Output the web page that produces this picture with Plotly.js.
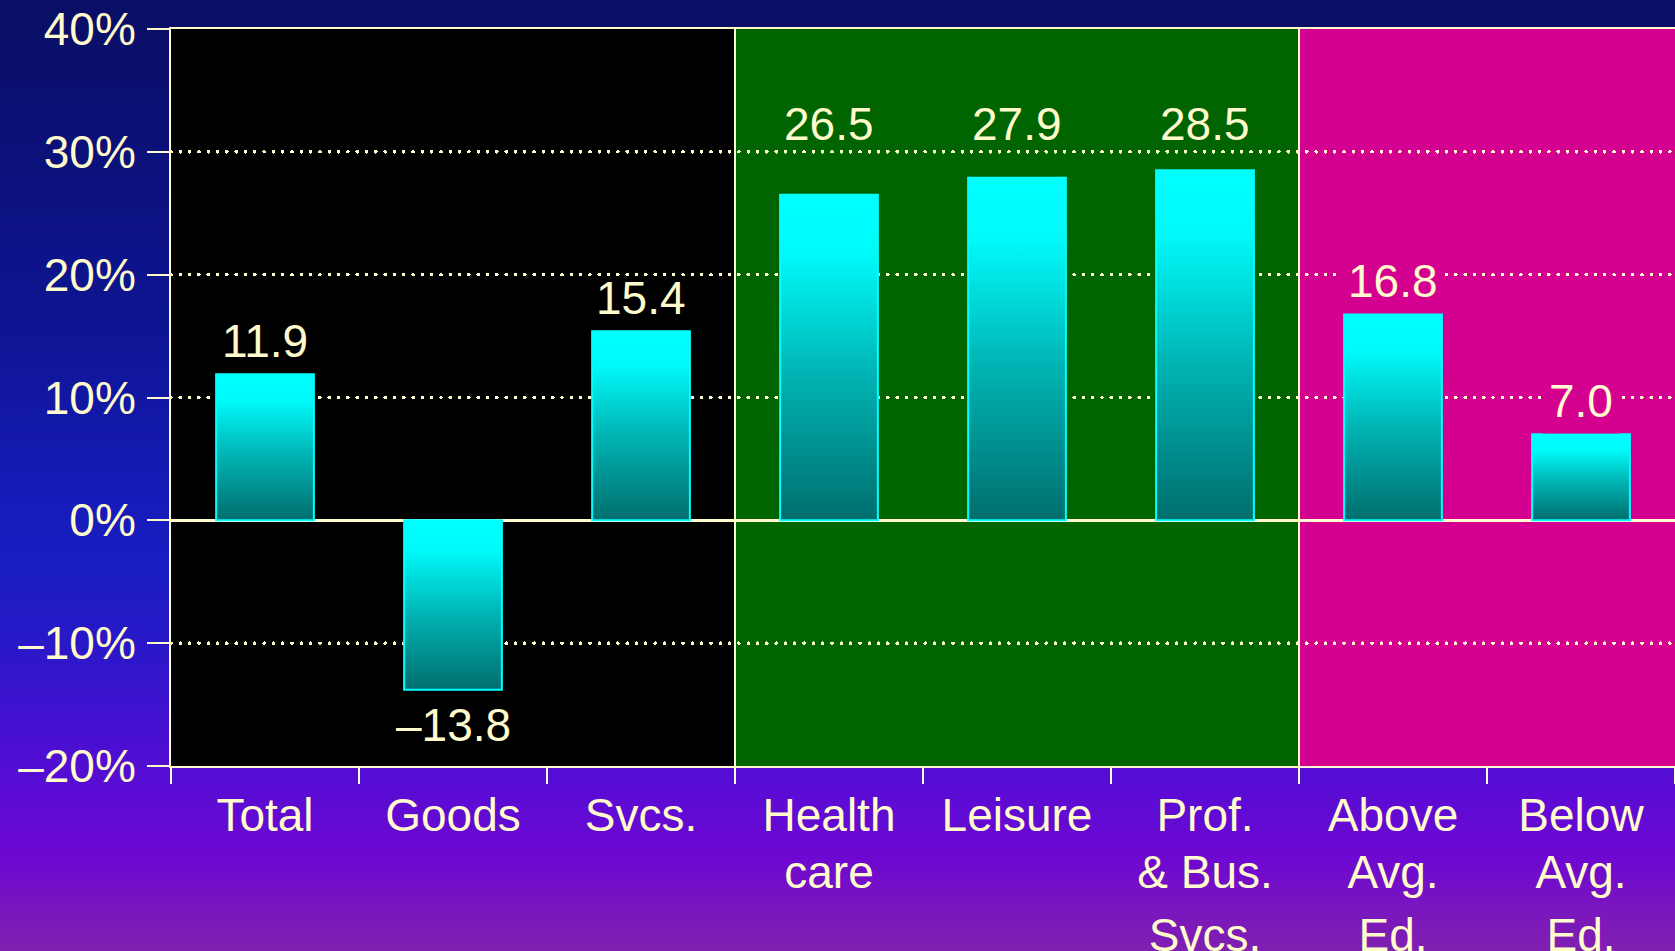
<!DOCTYPE html>
<html>
<head>
<meta charset="utf-8">
<script src="https://cdn.plot.ly/plotly-3.0.1.min.js"></script>
<style>
  html, body { margin: 0; padding: 0; width: 1675px; height: 951px; overflow: hidden; }
  body {
    background: linear-gradient(to bottom,
      #0a0e64 0%, #0b1178 15%, #0e1594 35%, #161bb8 52%, #1a1ec4 60%,
      #2a18c8 68%, #4410d0 76%, #5a0cd4 83%, #6c08d2 90%, #7814c0 95%, #8020b0 100%);
  }
  #chart { width: 1675px; height: 951px; }
</style>
</head>
<body>
<div id="chart"></div>
<script>
// ---- data ----
const categories = ['Total', 'Goods', 'Svcs.', 'Health<br>care', 'Leisure',
                    'Prof.<br>& Bus.<br>Svcs.', 'Above<br>Avg.<br>Ed.', 'Below<br>Avg.<br>Ed.'];
const values = [11.9, -13.8, 15.4, 26.5, 27.9, 28.5, 16.8, 7.0];
const valueLabels = ['11.9', '\u201313.8', '15.4', '26.5', '27.9', '28.5', '16.8', '7.0'];
const groupStart = [0, 3, 6];
const groupEnd = [2, 5, 7];
const groupColors = ['#000000', '#006400', '#d40090'];
const yTickVals = [-20, -10, 0, 10, 20, 30, 40];
const yTickText = ['\u201320%', '\u201310%', '0%', '10%', '20%', '30%', '40%'];
const gridVals = [-10, 10, 20, 30];
const labelFloor = 30; // labels of bars just under this gridline sit above it

const cream = '#fffbcc';
const fontFam = 'Arial, "Liberation Sans", Helvetica, sans-serif';

function groupOf(i) {
  for (let g = 0; g < groupStart.length; g++) {
    if (i >= groupStart[g] && i <= groupEnd[g]) return g;
  }
  return 0;
}
// does a label sitting on bar value v cross a dotted gridline?
function crossesGrid(v) {
  const lo = v >= 0 ? v + 0.6 : v - 4.3;
  const hi = v >= 0 ? v + 4.3 : v - 0.6;
  return gridVals.some(g => g > lo && g < hi);
}

const trace = {
  type: 'bar',
  x: categories,
  y: values,
  width: 0.52,
  marker: { color: '#00c8c8', line: { color: '#00ffff', width: 2 } },
  hoverinfo: 'skip'
};

const shapes = [];
for (let g = 0; g < groupStart.length; g++) {
  shapes.push({
    type: 'rect', xref: 'x', yref: 'paper', layer: 'below',
    x0: groupStart[g] - 0.5, x1: groupEnd[g] + 0.5, y0: 0, y1: 1,
    fillcolor: groupColors[g], line: { width: 0 }
  });
}
for (let g = 1; g < groupStart.length; g++) {
  shapes.push({
    type: 'line', xref: 'x', yref: 'paper', layer: 'above',
    x0: groupStart[g] - 0.5, x1: groupStart[g] - 0.5, y0: 0, y1: 1,
    line: { color: cream, width: 2 }
  });
}

const annotations = values.map((v, i) => {
  const lifted = v > labelFloor - 5 && v < labelFloor;
  return {
    x: categories[i], y: lifted ? labelFloor : v, xref: 'x', yref: 'y',
    text: valueLabels[i], showarrow: false,
    yanchor: v >= 0 ? 'bottom' : 'top',
    yshift: lifted ? -5 : (v >= 0 ? 0 : -2),
    bgcolor: (!lifted && crossesGrid(v)) ? groupColors[groupOf(i)] : 'rgba(0,0,0,0)',
    borderpad: 6,
    font: { family: fontFam, size: 46, color: cream }
  };
});

const layout = {
  width: 1675, height: 951,
  margin: { l: 171, r: 0, t: 29, b: 185, pad: 0 },
  paper_bgcolor: 'rgba(0,0,0,0)',
  plot_bgcolor: '#000000',
  showlegend: false,
  font: { family: fontFam, size: 46, color: cream },
  xaxis: {
    type: 'category',
    range: [-0.5, 7.5],
    tickson: 'boundaries',
    ticks: 'outside', ticklen: 16, tickwidth: 2, tickcolor: cream,
    showline: true, linecolor: cream, linewidth: 2, mirror: true,
    showgrid: false, zeroline: false,
    tickfont: { family: fontFam, size: 46, color: cream },
    ticklabelstandoff: 8,
    fixedrange: true
  },
  yaxis: {
    range: [-20, 40],
    tickvals: yTickVals, ticktext: yTickText,
    ticks: 'outside', ticklen: 22, tickwidth: 2, tickcolor: cream,
    showline: true, linecolor: cream, linewidth: 2,
    showgrid: true, gridcolor: cream, gridwidth: 3, griddash: '3px,6.3px',
    zeroline: true, zerolinecolor: cream, zerolinewidth: 3,
    tickfont: { family: fontFam, size: 46, color: cream },
    ticklabelstandoff: 2,
    fixedrange: true
  },
  shapes: shapes,
  annotations: annotations
};

Plotly.newPlot('chart', [trace], layout, { staticPlot: true, displayModeBar: false }).then(gd => {
  const svgNS = 'http://www.w3.org/2000/svg';
  const svg = gd.querySelector('svg.main-svg');
  let defs = svg.querySelector('defs');
  if (!defs) { defs = document.createElementNS(svgNS, 'defs'); svg.insertBefore(defs, svg.firstChild); }
  const grad = document.createElementNS(svgNS, 'linearGradient');
  grad.setAttribute('id', 'barGrad');
  grad.setAttribute('x1', '0'); grad.setAttribute('y1', '0');
  grad.setAttribute('x2', '0'); grad.setAttribute('y2', '1');
  [['0%', '#00ffff'], ['18%', '#00fafa'], ['55%', '#00b4b4'], ['100%', '#006e6e']].forEach(([o, c]) => {
    const s = document.createElementNS(svgNS, 'stop');
    s.setAttribute('offset', o); s.setAttribute('stop-color', c);
    grad.appendChild(s);
  });
  defs.appendChild(grad);
  gd.querySelectorAll('.bars .point path').forEach(p => {
    p.style.fill = 'url(#barGrad)';
  });
  // round dotted gridlines
  gd.querySelectorAll('path.ygrid').forEach(p => {
    p.style.strokeLinecap = 'round';
    p.style.strokeDasharray = '0.01px,9.3px';
    p.style.strokeWidth = '3.6px';
  });
  // slightly tighter line spacing for multi-line category labels
  gd.querySelectorAll('.xtick text tspan.line').forEach(t => {
    const dy = t.getAttribute('dy');
    if (dy && dy !== '0em' && dy.indexOf('1.3em') !== -1) t.setAttribute('dy', '1.24em');
  });
});
</script>
</body>
</html>
